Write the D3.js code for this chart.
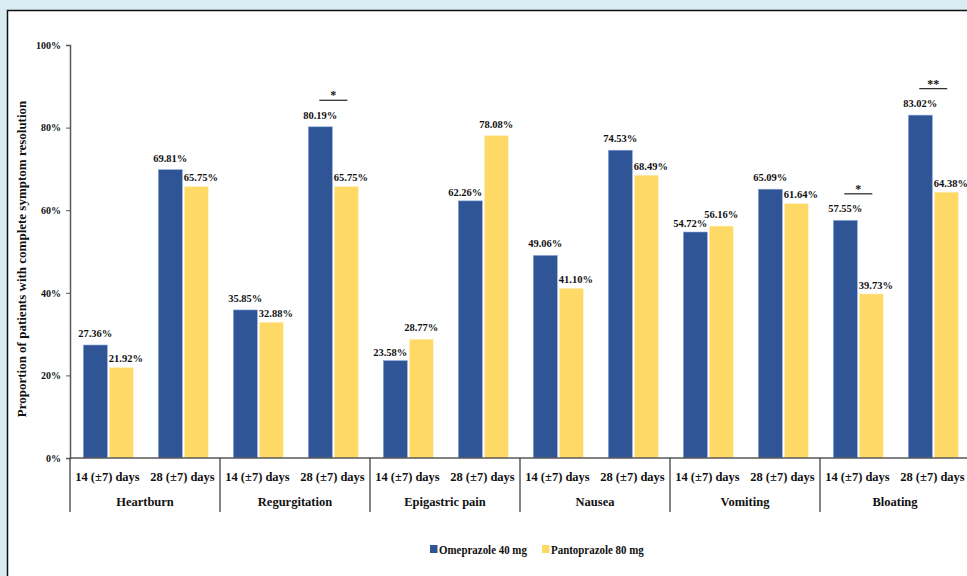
<!DOCTYPE html>
<html>
<head>
<meta charset="utf-8">
<script src="https://cdn.jsdelivr.net/npm/d3@7"></script>
<style>
  html, body { margin: 0; padding: 0; background: #d9ecf1; }
  svg { display: block; }
</style>
</head>
<body>
<svg id="chart" width="967" height="576"></svg>
<script>
// Symptom groups and follow-up visits
const symptoms = ["Heartburn", "Regurgitation", "Epigastric pain", "Nausea", "Vomiting", "Bloating"];
const visits = ["14 (±7) days", "28 (±7) days"];
const series = ["Omeprazole 40 mg", "Pantoprazole 80 mg"];
const seriesColors = ["#2f5597", "#ffd966"];

// Percent with complete resolution, ordered symptom by symptom, visit by visit
const omeprazole = [27.36, 69.81, 35.85, 80.19, 23.58, 62.26, 49.06, 74.53, 54.72, 65.09, 57.55, 83.02];
const pantoprazole = [21.92, 65.75, 32.88, 65.75, 28.77, 78.08, 41.10, 68.49, 56.16, 61.64, 39.73, 64.38];

// Significance markers: slot index and marker text
const sigSlots = [3, 10, 11];
const sigMarks = ["*", "*", "**"];

const yTicks = [0, 20, 40, 60, 80, 100];

const FONT = "'Liberation Serif', 'Times New Roman', Times, serif";

(function draw() {
  const svg = d3.select("#chart")
    .attr("font-family", FONT)
    .attr("font-weight", "bold");

  // White panel with dark border on top and left
  svg.append("rect").attr("x", 7).attr("y", 10).attr("width", 1000).attr("height", 600)
    .attr("fill", "#fff");
  svg.append("path").attr("d", "M7.5,600V10.5H967").attr("fill", "none")
    .attr("stroke", "#111").attr("stroke-width", 1.5);

  const plotLeft = 70, plotRight = 970, plotTop = 45, plotBottom = 458;

  const slots = [];
  symptoms.forEach(s => visits.forEach(v => slots.push(s + "|" + v)));

  const x0 = d3.scaleBand().domain(slots).range([plotLeft, plotRight]);
  const x1 = d3.scaleBand().domain(series).range([13.3, 63.3]).paddingInner(2 / 26);
  const y = d3.scaleLinear().domain([0, 100]).range([plotBottom, plotTop]);

  // Y axis
  const yAxis = d3.axisLeft(y).tickValues(yTicks).tickFormat(d => d + "%").tickSize(4).tickPadding(5);
  const gy = svg.append("g").attr("transform", `translate(${plotLeft},0)`).call(yAxis);
  gy.attr("font-family", FONT).attr("font-size", 10);
  gy.select(".domain").attr("stroke", "#595959").attr("stroke-width", 1.5);
  gy.selectAll(".tick line").attr("stroke", "#595959");
  gy.selectAll(".tick text").attr("fill", "#111");

  // Bars
  const chartData = slots.map((s, i) => ({ slot: s, values: [omeprazole[i], pantoprazole[i]] }));
  const slotG = svg.append("g").selectAll("g").data(chartData).join("g")
    .attr("transform", d => `translate(${x0(d.slot)},0)`);

  const barItems = d => d.values.map((v, k) => ({ key: series[k], v, k, other: d.values[1 - k] }));

  slotG.selectAll("rect").data(barItems)
    .join("rect")
    .attr("x", d => x1(d.key))
    .attr("width", x1.bandwidth())
    .attr("y", d => y(d.v))
    .attr("height", d => y(0) - y(d.v))
    .attr("fill", d => seriesColors[d.k])
    .attr("stroke", d => d.k === 0 ? "#8faadc" : "#fff2cc")
    .attr("stroke-width", 0.6);

  // Value labels: centered over the taller bar, nudged outward over the shorter one
  slotG.selectAll("text.val").data(barItems)
    .join("text").attr("class", "val")
    .attr("x", d => {
      if (d.v >= d.other) return x1(d.key) + x1.bandwidth() / 2;
      return d.k === 0 ? x1(d.key) + x1.bandwidth() : x1(d.key) - 0.5;
    })
    .attr("y", d => y(d.v) - (d.v >= d.other ? 8 : 5))
    .attr("text-anchor", d => d.v >= d.other ? "middle" : (d.k === 0 ? "end" : "start"))
    .attr("font-size", 10.5)
    .attr("fill", "#111")
    .text(d => d.v.toFixed(2) + "%");

  // Significance brackets spanning the pair
  sigSlots.forEach((si, j) => {
    const s = slots[si];
    const c0 = x0(s) + x1(series[0]) + x1.bandwidth() / 2;
    const c1 = x0(s) + x1(series[1]) + x1.bandwidth() / 2;
    const peak = Math.max(omeprazole[si], pantoprazole[si]);
    const ly = y(peak) - 26.5;
    svg.append("line").attr("x1", c0 - 1).attr("x2", c1 + 1).attr("y1", ly).attr("y2", ly)
      .attr("stroke", "#333").attr("stroke-width", 1.3);
    svg.append("text").attr("x", (c0 + c1) / 2).attr("y", ly - 1).attr("text-anchor", "middle")
      .attr("font-size", 12).attr("fill", "#111").text(sigMarks[j]);
  });

  // X axis baseline
  svg.append("line").attr("x1", plotLeft).attr("x2", plotRight).attr("y1", plotBottom).attr("y2", plotBottom)
    .attr("stroke", "#595959").attr("stroke-width", 1.5);

  // Visit labels
  svg.append("g").selectAll("text").data(slots).join("text")
    .attr("x", d => x0(d) + x0.bandwidth() / 2)
    .attr("y", 481)
    .attr("text-anchor", "middle")
    .attr("font-size", 12.5)
    .attr("fill", "#111")
    .text(d => d.split("|")[1]);

  // Symptom group labels and separators
  const groupW = x0.bandwidth() * visits.length;
  svg.append("g").selectAll("text").data(symptoms).join("text")
    .attr("x", (d, i) => plotLeft + groupW * i + groupW / 2)
    .attr("y", 506)
    .attr("text-anchor", "middle")
    .attr("font-size", 12.5)
    .attr("fill", "#111")
    .text(d => d);

  svg.append("g").selectAll("line").data(d3.range(symptoms.length + 1)).join("line")
    .attr("x1", i => plotLeft + groupW * i).attr("x2", i => plotLeft + groupW * i)
    .attr("y1", plotBottom).attr("y2", 512)
    .attr("stroke", "#333").attr("stroke-width", 1.2);

  // Y axis title
  svg.append("text")
    .attr("transform", `translate(26,259) rotate(-90)`)
    .attr("text-anchor", "middle")
    .attr("font-size", 13)
    .attr("fill", "#111")
    .text("Proportion of patients with complete symptom resolution");

  // Legend (condensed glyphs)
  const legend = svg.append("g").attr("transform", "translate(430,549)");
  const legX = [0, 112];
  series.forEach((s, i) => {
    legend.append("rect").attr("x", legX[i]).attr("y", -4).attr("width", 7.5).attr("height", 8)
      .attr("fill", seriesColors[i]);
    legend.append("text")
      .attr("transform", `translate(${legX[i] + 9},5) scale(0.84,1)`)
      .attr("font-size", 13).attr("fill", "#111").text(s);
  });
})();
</script>
</body>
</html>
